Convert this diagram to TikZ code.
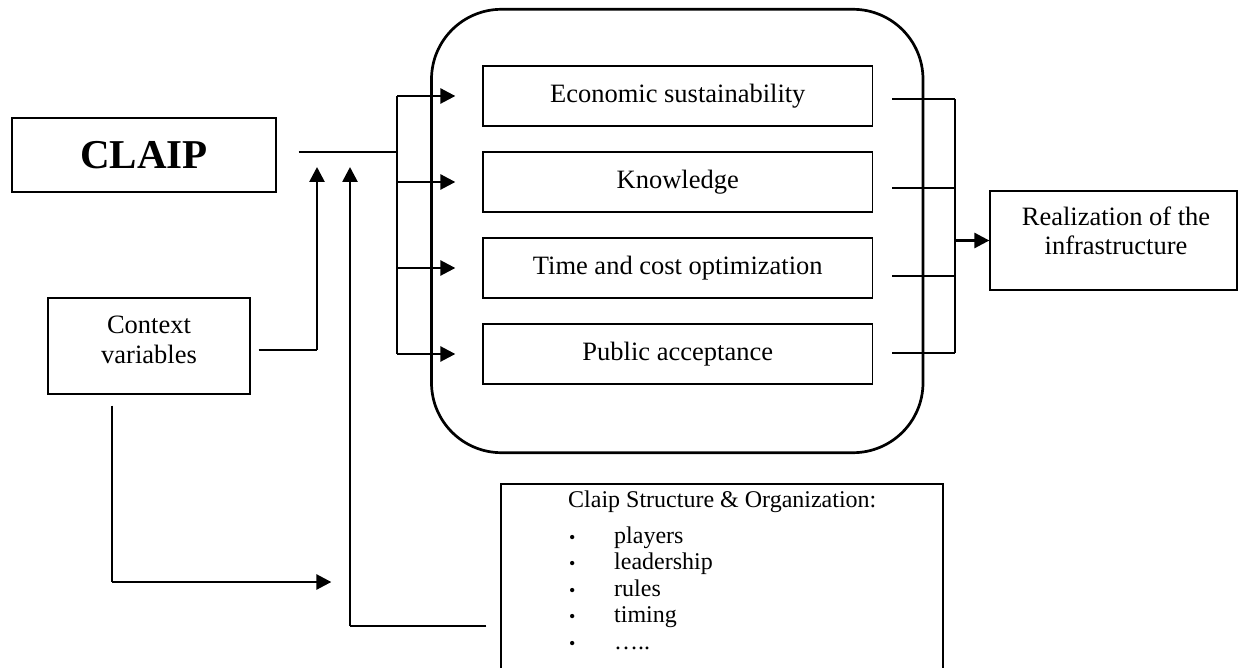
\documentclass[tikz,border=0pt]{standalone}
\usepackage{fontspec}
\setmainfont{Liberation Serif}
\usetikzlibrary{arrows.meta}
\begin{document}
\begin{tikzpicture}[x=1pt,y=-1pt,
  box/.style={draw, line width=1.3pt, inner sep=0pt},
  wire/.style={line width=1.3pt},
  bigarrow/.style={line width=2.7pt, -{Triangle[length=15pt,width=15pt]}},
  txt/.style={font=\fontsize{26.5}{30}\selectfont, inner sep=0pt},
  lst/.style={font=\fontsize{24}{27}\selectfont, inner sep=0pt, anchor=base west},
  dot/.style={font=\fontsize{18}{20}\selectfont, inner sep=0pt, anchor=base west},
]
\useasboundingbox (0,0) rectangle (1239,668);
\clip (0,0) rectangle (1239,668);

% left-hand boxes
\node[box, minimum width=264pt, minimum height=74pt,
      font=\fontsize{41}{44}\selectfont\bfseries] (claip) at (144,155) {CLAIP};
\node[box, minimum width=202pt, minimum height=96pt] (ctx) at (149,346) {};
\node[txt, anchor=base] (ctxa) at (149,333) {Context};
\node[txt, anchor=base] (ctxb) at (149,363) {variables};

% central rounded frame with the four goals
\node[draw, line width=2.7pt, rounded corners=70pt,
      minimum width=491.5pt, minimum height=443.4pt] (hub) at (677.25,231) {};
\node[box, txt, minimum width=389.5pt, minimum height=60pt] (e1) at (677.75,96)  {Economic sustainability};
\node[box, txt, minimum width=389.5pt, minimum height=60pt] (e2) at (677.75,182) {Knowledge};
\node[box, txt, minimum width=389.5pt, minimum height=60pt] (e3) at (677.75,268) {Time and cost optimization};
\node[box, txt, minimum width=389.5pt, minimum height=60pt] (e4) at (677.75,354) {Public acceptance};

% outcome box
\node[box, minimum width=247pt, minimum height=99pt] (real) at (1113.5,240.5) {};
\node[txt, anchor=base] (reala) at (1116,226) {Realization of the};
\node[txt, anchor=base] (realb) at (1116,255) {infrastructure};

% structure box (runs past the lower edge)
\node[box, minimum width=442pt, minimum height=236pt] (cs) at (722,602) {};
\node[lst] (csh) at (568,507) {Claip Structure \& Organization:};
\foreach \i/\t/\yy in {1/players/543, 2/leadership/569, 3/rules/596, 4/timing/622, 5/…../649} {
  \node[dot] (b\i) at (569,\yy) {•};
  \node[lst] (l\i) at (614,\yy) {\t};
}

% distribution bus from CLAIP to the goals
\coordinate (bus) at (397,152);
\draw[wire] ([xshift=22pt,yshift=3pt]claip.east) -- (bus);
\draw[wire] (e1.west -| bus) -- (e4.west -| bus);
\foreach \b in {e1,e2,e3,e4}
  \draw[bigarrow, shorten >=27pt] (\b.west -| bus) -- (\b.west);

% context variables feeding upwards
\coordinate (c1t) at (317,350);
\coordinate (c1tip) at (317,167);
\draw[wire] ([xshift=8pt,yshift=-4pt]ctx.east) -- (c1t);
\draw[bigarrow] (c1t) -- (c1tip);

% structure feeding upwards
\coordinate (c2c) at (350,626);
\coordinate (c2tip) at (350,167);
\draw[wire, shorten <=14pt] (cs.west |- c2c) -- (c2c);
\draw[bigarrow] (c2c) -- (c2tip);

% context variables down to the structure
\coordinate (d1) at (112,582);
\draw[wire, shorten <=11pt] (ctx.south -| d1) -- (d1);
\draw[bigarrow, shorten >=169pt] (d1) -- (d1 -| cs.west);

% collecting bus on the right
\coordinate (r1) at (955,99);
\coordinate (r2) at (955,188);
\coordinate (r3) at (955,276);
\coordinate (r4) at (955,353);
\draw[wire] ([xshift=19pt,yshift=-3pt]e1.east) -- (r1);
\draw[wire] ([xshift=19pt,yshift=-6pt]e2.east) -- (r2);
\draw[wire] ([xshift=19pt,yshift=-8pt]e3.east) -- (r3);
\draw[wire] ([xshift=19pt,yshift=1pt]e4.east) -- (r4);
\draw[wire] (r1) -- (r4);
\draw[bigarrow] (r1 |- real.west) -- (real.west);
\end{tikzpicture}
\end{document}
